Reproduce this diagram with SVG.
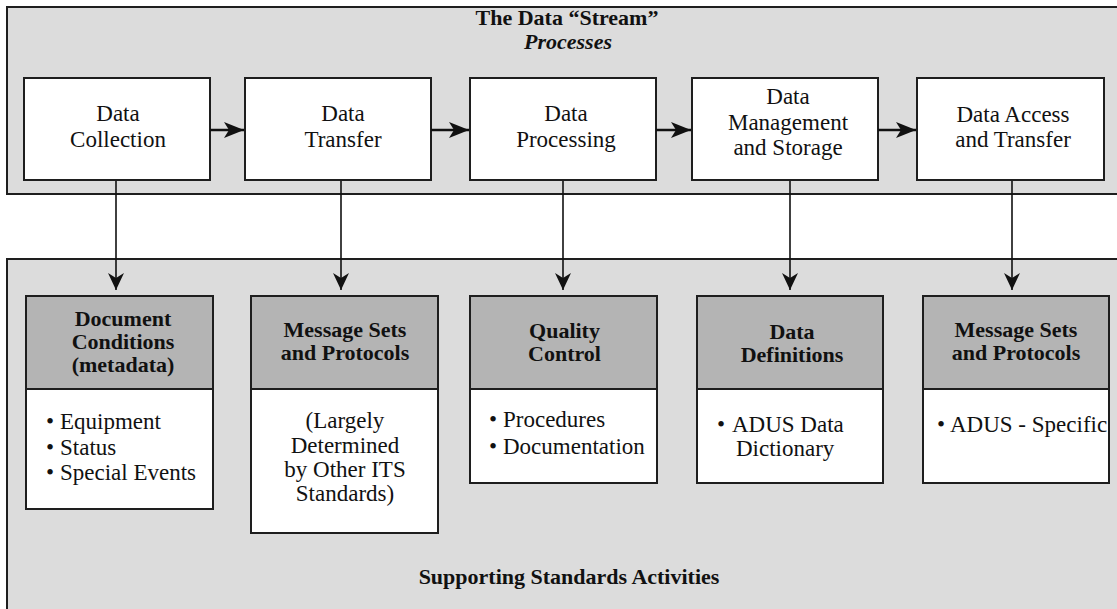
<svg xmlns="http://www.w3.org/2000/svg" width="1117" height="609" viewBox="0 0 1117 609">
  <style>
    .panel { fill: #dcdcdc; stroke: #1e1e1e; stroke-width: 2; }
    .box { fill: #ffffff; stroke: #1e1e1e; stroke-width: 2; }
    .head { fill: #b4b4b4; stroke: #1e1e1e; stroke-width: 2; }
    .t { font-family: "Liberation Serif", "Times New Roman", serif; font-size: 23px; fill: #111; }
    .c { text-anchor: middle; }
    .b { font-family: "Liberation Serif", "Times New Roman", serif; font-size: 22px; font-weight: bold; fill: #111; text-anchor: middle; }
    .flow { stroke: #111; stroke-width: 2.5; fill: none; }
    .drop { stroke: #111; stroke-width: 1.6; fill: none; }
  </style>
  <defs>
    <marker id="head-h" markerUnits="userSpaceOnUse" viewBox="0 0 20 16" markerWidth="20" markerHeight="16" refX="20" refY="8" orient="auto">
      <path d="M0,0 L20,8 L0,16 L5,8 Z" fill="#111"/>
    </marker>
    <marker id="head-v" markerUnits="userSpaceOnUse" viewBox="0 0 17 16" markerWidth="17" markerHeight="16" refX="17" refY="8" orient="auto">
      <path d="M0,0 L17,8 L0,16 L5,8 Z" fill="#111"/>
    </marker>
  </defs>

  <!-- background panels -->
  <g id="stream-panel">
    <rect class="panel" x="7" y="7" width="1125" height="187"/>
    <text class="b" x="567" y="25" font-size="20">The Data &#8220;Stream&#8221;</text>
    <text class="b" x="568" y="49" font-size="20.5" font-style="italic">Processes</text>
  </g>
  <g id="standards-panel">
    <rect class="panel" x="7" y="259" width="1125" height="360"/>
    <text class="b" x="569" y="584" font-size="22.5">Supporting Standards Activities</text>
  </g>

  <!-- process nodes -->
  <g id="p-collection">
    <rect class="box" x="24" y="78" width="186" height="102"/>
    <text class="t c" x="118" y="121">Data</text>
    <text class="t c" x="118" y="147">Collection</text>
  </g>
  <g id="p-transfer">
    <rect class="box" x="245" y="78" width="186" height="102"/>
    <text class="t c" x="343" y="121">Data</text>
    <text class="t c" x="343" y="147">Transfer</text>
  </g>
  <g id="p-processing">
    <rect class="box" x="470" y="78" width="186" height="102"/>
    <text class="t c" x="566" y="121">Data</text>
    <text class="t c" x="566" y="147">Processing</text>
  </g>
  <g id="p-management">
    <rect class="box" x="692" y="78" width="186" height="102"/>
    <text class="t c" x="788" y="104">Data</text>
    <text class="t c" x="788" y="129.5">Management</text>
    <text class="t c" x="788" y="155">and Storage</text>
  </g>
  <g id="p-access">
    <rect class="box" x="917" y="78" width="187" height="102"/>
    <text class="t c" x="1013" y="122">Data Access</text>
    <text class="t c" x="1013" y="147">and Transfer</text>
  </g>

  <!-- standards nodes -->
  <g id="s-document">
    <rect class="box" x="26" y="389" width="187" height="120"/>
    <rect class="head" x="26" y="296" width="187" height="93"/>
    <text class="b" x="123" y="326">Document</text>
    <text class="b" x="123" y="349">Conditions</text>
    <text class="b" x="123" y="372">(metadata)</text>
    <text class="t" x="46" y="429">•</text><text class="t" x="60" y="429">Equipment</text>
    <text class="t" x="46" y="455">•</text><text class="t" x="60" y="455">Status</text>
    <text class="t" x="46" y="480">•</text><text class="t" x="60" y="480">Special Events</text>
  </g>
  <g id="s-messages-1">
    <rect class="box" x="251" y="389" width="187" height="144"/>
    <rect class="head" x="251" y="296" width="187" height="93"/>
    <text class="b" x="345" y="337">Message Sets</text>
    <text class="b" x="345" y="360">and Protocols</text>
    <text class="t c" x="345" y="428">(Largely</text>
    <text class="t c" x="345" y="453">Determined</text>
    <text class="t c" x="345" y="477">by Other ITS</text>
    <text class="t c" x="345" y="501">Standards)</text>
  </g>
  <g id="s-quality">
    <rect class="box" x="470" y="389" width="187" height="94"/>
    <rect class="head" x="470" y="296" width="187" height="93"/>
    <text class="b" x="564.5" y="338">Quality</text>
    <text class="b" x="564.5" y="361">Control</text>
    <text class="t" x="489" y="427">•</text><text class="t" x="503" y="427">Procedures</text>
    <text class="t" x="489" y="454">•</text><text class="t" x="503" y="454">Documentation</text>
  </g>
  <g id="s-definitions">
    <rect class="box" x="697" y="389" width="186" height="94"/>
    <rect class="head" x="697" y="296" width="186" height="93"/>
    <text class="b" x="792" y="339">Data</text>
    <text class="b" x="792" y="362">Definitions</text>
    <text class="t" x="717" y="432">•</text><text class="t" x="732" y="432">ADUS Data</text>
    <text class="t" x="736" y="456">Dictionary</text>
  </g>
  <g id="s-messages-2">
    <rect class="box" x="923" y="389" width="186" height="94"/>
    <rect class="head" x="923" y="296" width="186" height="93"/>
    <text class="b" x="1016" y="337">Message Sets</text>
    <text class="b" x="1016" y="360">and Protocols</text>
    <text class="t" x="937" y="432">•</text><text class="t" x="950" y="432" font-size="21.5">ADUS - Specific</text>
  </g>

  <!-- connectors -->
  <g id="connectors">
    <line class="flow" x1="210" y1="130" x2="244" y2="130" marker-end="url(#head-h)"/>
    <line class="flow" x1="431" y1="130" x2="469" y2="130" marker-end="url(#head-h)"/>
    <line class="flow" x1="656" y1="130" x2="691" y2="130" marker-end="url(#head-h)"/>
    <line class="flow" x1="878" y1="130" x2="916" y2="130" marker-end="url(#head-h)"/>
    <line class="drop" x1="116" y1="181" x2="116" y2="290" marker-end="url(#head-v)"/>
    <line class="drop" x1="341" y1="181" x2="341" y2="290" marker-end="url(#head-v)"/>
    <line class="drop" x1="563" y1="181" x2="563" y2="290" marker-end="url(#head-v)"/>
    <line class="drop" x1="790" y1="181" x2="790" y2="290" marker-end="url(#head-v)"/>
    <line class="drop" x1="1012" y1="181" x2="1012" y2="290" marker-end="url(#head-v)"/>
  </g>
</svg>
